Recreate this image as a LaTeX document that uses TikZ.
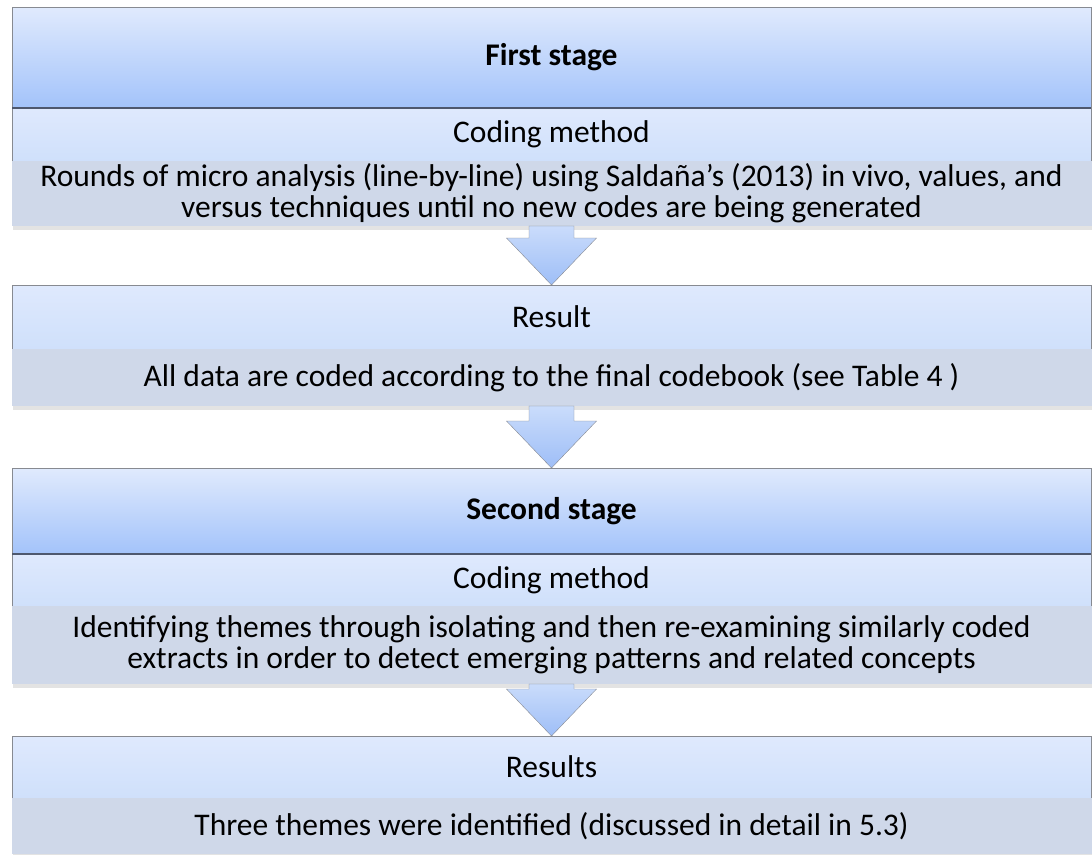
\documentclass[tikz,border=0pt]{standalone}
\usepackage{fontspec}
\setmainfont{Carlito}
\usetikzlibrary{positioning,calc,shadows}

\definecolor{headtop}{RGB}{224,234,253}
\definecolor{headbot}{RGB}{163,195,250}
\definecolor{methtop}{RGB}{223,233,253}
\definecolor{methbot}{RGB}{207,224,251}
\definecolor{greyfill}{RGB}{207,216,233}
\definecolor{arrtop}{RGB}{202,220,251}
\definecolor{arrbot}{RGB}{158,190,247}
\definecolor{rimline}{RGB}{135,138,145}
\definecolor{headline}{RGB}{78,88,110}

\newcommand\boxfont{\fontsize{31.5}{31}\selectfont\lineskiplimit-20pt\relax}

\tikzset{
  stagehead/.style={draw=rimline, top color=headtop, bottom color=headbot,
    minimum width=1079pt, font=\boxfont\bfseries},
  methodbox/.style={draw=rimline, top color=methtop, bottom color=methbot,
    minimum width=1079pt},
  greybox/.style={fill=greyfill, minimum width=1080pt, align=center,
    drop shadow={shadow xshift=1pt, shadow yshift=-4pt, opacity=.22}},
  bigarrow/.style={draw=rimline, top color=arrtop, bottom color=arrbot,
    line join=miter},
}

\begin{document}
\begin{tikzpicture}[x=1pt,y=-1pt,
    every node/.style={outer sep=0pt, inner sep=0pt},
    font=\boxfont]
\useasboundingbox (0,0) rectangle (1092,854);

% first stage
\node[stagehead, minimum height=101pt, anchor=north west] (head1) at (12,7) {First stage};
\node[methodbox, minimum height=53pt, below=0pt of head1] (meth1) {Coding method};
\node[greybox, minimum height=65pt, below=0pt of meth1] (txt1)
  {Rounds of micro analysis (line-by-line) using Saldaña’s (2013) in vivo, values, and\\
   versus techniques until no new codes are being generated};
\draw[headline, line width=1.5pt] (head1.south west) -- (head1.south east);

\node[methodbox, minimum height=64pt, anchor=north west] (res1) at (12,285) {Result};
\node[greybox, minimum height=57pt, below=0pt of res1] (out1)
  {All data are coded according to the final codebook (see Table 4 )};

% second stage
\node[stagehead, minimum height=86pt, anchor=north west] (head2) at (12,468) {Second stage};
\node[methodbox, minimum height=52pt, below=0pt of head2] (meth2) {Coding method};
\node[greybox, minimum height=78pt, below=0pt of meth2] (txt2)
  {Identifying themes through isolating and then re-examining similarly coded\\
   extracts in order to detect emerging patterns and related concepts};
\draw[headline, line width=1.5pt] (head2.south west) -- (head2.south east);

\node[methodbox, minimum height=62pt, anchor=north west] (res2) at (12,736) {Results};
\node[greybox, minimum height=56pt, below=0pt of res2] (out2)
  {Three themes were identified (discussed in detail in 5.3)};

% block arrows
\foreach \from/\to in {txt1/res1, out1/head2, txt2/res2}
  \draw[bigarrow] ($(\from.south)+(-22.5,0)$) -- ($(\to.north)+(-22.5,-47)$)
    -- ($(\to.north)+(-45,-47)$) -- (\to.north) -- ($(\to.north)+(45,-47)$)
    -- ($(\to.north)+(22.5,-47)$) -- ($(\from.south)+(22.5,0)$) -- cycle;
\end{tikzpicture}
\end{document}
